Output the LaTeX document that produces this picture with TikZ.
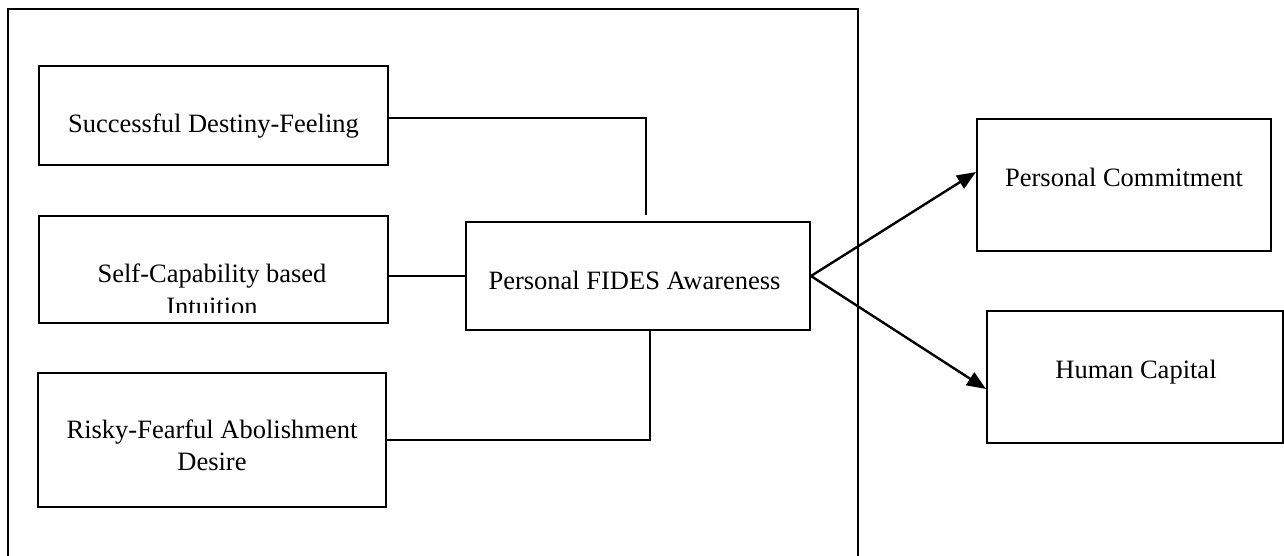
\documentclass[tikz,border=0pt]{standalone}
\usepackage{fontspec}
\setmainfont{Liberation Serif}
\usetikzlibrary{arrows.meta}
\begin{document}
\begin{tikzpicture}[x=1pt,y=-1pt,
  box/.style={draw,line width=2pt,rectangle,inner sep=0pt},
  lbl/.style={anchor=base,inner sep=0pt,font=\fontsize{26.5}{32}\selectfont},
  conn/.style={line width=2pt},
  arr/.style={line width=2.4pt,-{Triangle[length=19pt,width=15pt]}}]
\clip (0,0) rectangle (1284,555);
\fill[white] (0,0) rectangle (1284,555);
% outer frame
\draw[line width=2pt] (8,565) -- (8,9) -- (858,9) -- (858,565);
% boxes
\node[box,minimum width=349pt,minimum height=99pt] (b1) at (213.5,115.5) {};
\node[box,minimum width=349pt,minimum height=107pt] (b2) at (213.5,269.5) {};
\node[box,minimum width=348pt,minimum height=134pt] (b3) at (212,440) {};
\node[box,minimum width=344pt,minimum height=108pt] (fides) at (638,276) {};
\node[box,minimum width=294pt,minimum height=132pt] (pc) at (1124,185) {};
\node[box,minimum width=296pt,minimum height=132pt] (hc) at (1135,377) {};
% texts
\node[lbl] (t1) at (213.5,132) {Successful Destiny-Feeling};
\node[lbl] (t2a) at (212,282) {Self-Capability based};
\begin{scope}
\clip (40,290) rectangle (387,312);
\node[lbl] (t2b) at (212,315) {Intuition};
\end{scope}
\node[lbl] (t3a) at (212,438) {Risky-Fearful Abolishment};
\node[lbl] (t3b) at (212,470) {Desire};
\node[lbl] (t4) at (634.5,289) {Personal FIDES Awareness};
\node[lbl] (t5) at (1124,186) {Personal Commitment};
\node[lbl] (t6) at (1136,378) {Human Capital};
% connectors
\coordinate (c1) at (646,215);
\draw[conn] ([yshift=-2.5pt]b1.east) -| (c1);
\draw[conn] (b2.east |- fides.west) -- (fides.west);
\draw[conn] ([xshift=12pt]fides.south) |- (b3.east);
\draw[arr] (fides.east) -- ([yshift=13pt]pc.west);
\draw[arr] (fides.east) -- ([yshift=-12pt]hc.west);
\end{tikzpicture}
\end{document}
